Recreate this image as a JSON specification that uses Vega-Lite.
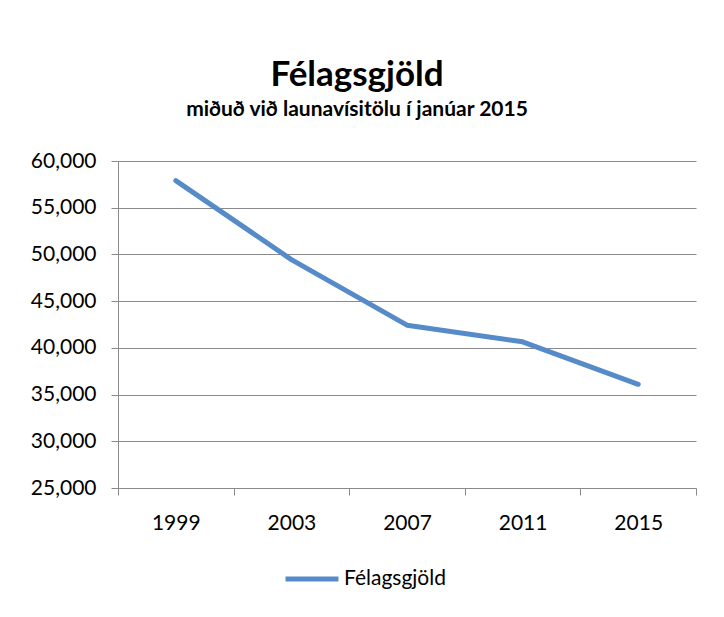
{
  "$schema": "https://vega.github.io/schema/vega-lite/v6.json",
  "autosize": {"type": "none"},
  "padding": {"left": 118, "top": 161, "right": 28, "bottom": 129},
  "width": 578,
  "height": 327,
  "background": "white",
  "title": {
    "text": "Félagsgjöld",
    "subtitle": "miðuð við launavísitölu í janúar 2015",
    "anchor": "middle",
    "frame": "group",
    "dx": -50,
    "offset": 30,
    "font": "Lato",
    "fontSize": 35,
    "fontWeight": "bold",
    "color": "#000000",
    "subtitleFont": "Lato",
    "subtitleFontSize": 21,
    "subtitleFontWeight": "bold",
    "subtitleColor": "#000000",
    "subtitlePadding": 6
  },
  "data": {
    "values": [
      {"year": "1999", "value": 57900, "series": "Félagsgjöld"},
      {"year": "2003", "value": 49450, "series": "Félagsgjöld"},
      {"year": "2007", "value": 42430, "series": "Félagsgjöld"},
      {"year": "2011", "value": 40650, "series": "Félagsgjöld"},
      {"year": "2015", "value": 36100, "series": "Félagsgjöld"}
    ]
  },
  "mark": {"type": "line", "strokeWidth": 5, "strokeCap": "round", "strokeJoin": "round"},
  "encoding": {
    "x": {
      "field": "year",
      "type": "ordinal",
      "bandPosition": 0.5,
      "scale": {"type": "band", "paddingInner": 0, "paddingOuter": 0},
      "axis": {
        "title": null,
        "labelAngle": 0,
        "tickBand": "extent",
        "grid": false,
        "domainColor": "#8a8a8a",
        "tickColor": "#8a8a8a",
        "tickSize": 7,
        "labelFont": "Lato",
        "labelFontSize": 21,
        "labelColor": "#000000",
        "labelPadding": 17
      }
    },
    "y": {
      "field": "value",
      "type": "quantitative",
      "scale": {"domain": [25000, 60000], "nice": false, "zero": false},
      "axis": {
        "title": null,
        "values": [25000, 30000, 35000, 40000, 45000, 50000, 55000, 60000],
        "format": ",.0f",
        "grid": true,
        "gridColor": "#8a8a8a",
        "gridWidth": 1,
        "domainColor": "#8a8a8a",
        "tickColor": "#8a8a8a",
        "tickSize": 7,
        "labelFont": "Lato",
        "labelFontSize": 21,
        "labelColor": "#000000",
        "labelPadding": 15
      }
    },
    "color": {
      "field": "series",
      "type": "nominal",
      "scale": {"range": ["#558BC8"]},
      "legend": {
        "title": null,
        "orient": "none",
        "legendX": 165,
        "legendY": 389,
        "padding": 0,
        "symbolType": "stroke",
        "symbolSize": 2809,
        "symbolStrokeWidth": 5,
        "labelFont": "Lato",
        "labelFontSize": 21,
        "labelColor": "#000000",
        "labelOffset": 3
      }
    }
  },
  "config": {"view": {"stroke": null}}
}
